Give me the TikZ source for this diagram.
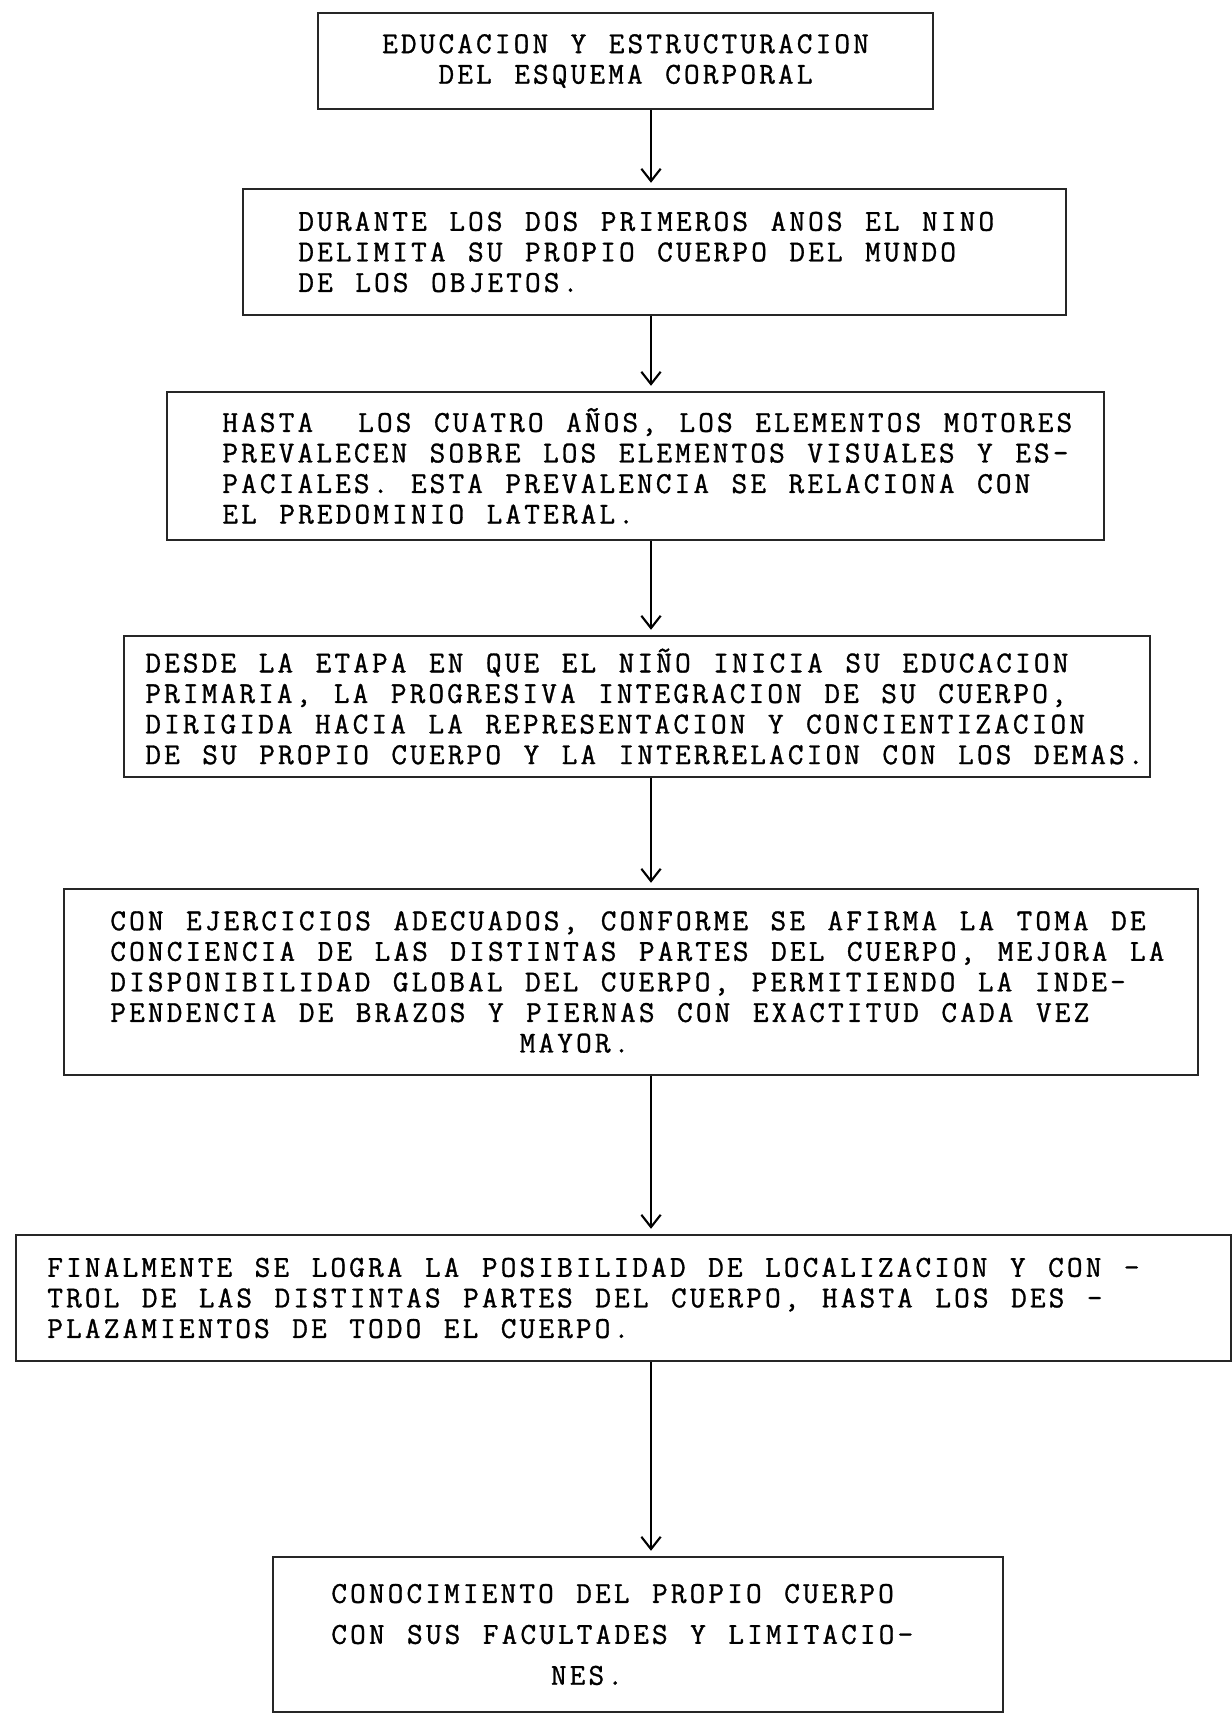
\documentclass[tikz,border=0pt]{standalone}
\usepackage{fontspec}
\usepackage{tikz}
\usetikzlibrary{arrows.meta}

\newfontfamily\maquinafam{Latin Modern Mono}[LetterSpace=10.35,WordSpace=1.197,FakeBold=1]
\newcommand{\maquina}{\maquinafam\fontsize{17.3}{17.4}\selectfont}
\newcommand{\maquinaamplia}{\maquinafam\fontsize{17.3}{23.3}\selectfont}

\begin{document}
\frenchspacing
\begin{tikzpicture}[x=0.02cm,y=-0.02cm,
		caja/.style={rectangle,draw=black!85,line width=1.1pt},
		texto/.style={inner sep=0pt,anchor=west,align=left,font=\maquina},
		flecha/.style={-{Straight Barb[length=7pt,width=11pt]},line width=1.2pt,shorten >=3pt}]
		
			\useasboundingbox (0,0) rectangle (1231,1714);
			
			\node[caja,minimum width=12.3cm,minimum height=1.92cm] (b1) at (625.5,61) {};
			\node[caja,minimum width=16.46cm,minimum height=2.52cm] (b2) at (654.5,252) {};
			\node[caja,minimum width=18.74cm,minimum height=2.96cm] (b3) at (635.5,466) {};
			\node[caja,minimum width=20.52cm,minimum height=2.82cm] (b4) at (637,706.5) {};
			\node[caja,minimum width=22.68cm,minimum height=3.72cm] (b5) at (631,982) {};
			\node[caja,minimum width=24.3cm,minimum height=2.52cm] (b6) at (623.5,1298) {};
			\node[caja,minimum width=14.6cm,minimum height=3.1cm] (b7) at (638,1634.5) {};
			
			\node[texto,anchor=center,align=center] (t1) at (625.5,61) {EDUCACION Y ESTRUCTURACION\\DEL ESQUEMA CORPORAL};
			\node[texto] (t2) at (298,252) {DURANTE LOS DOS PRIMEROS ANOS EL NINO\\DELIMITA SU PROPIO CUERPO DEL MUNDO\\DE LOS OBJETOS.};
			\node[texto] (t3) at (222,466) {HASTA\ \ LOS CUATRO AÑOS, LOS ELEMENTOS MOTORES\\PREVALECEN SOBRE LOS ELEMENTOS VISUALES Y ES-\\PACIALES. ESTA PREVALENCIA SE RELACIONA CON\\EL PREDOMINIO LATERAL.};
			\node[texto] (t4) at (145,706.5) {DESDE LA ETAPA EN QUE EL NIÑO INICIA SU EDUCACION\\PRIMARIA, LA PROGRESIVA INTEGRACION DE SU CUERPO,\\DIRIGIDA HACIA LA REPRESENTACION Y CONCIENTIZACION\\DE SU PROPIO CUERPO Y LA INTERRELACION CON LOS DEMAS.};
			\node[texto] (t5) at (110,982) {CON EJERCICIOS ADECUADOS, CONFORME SE AFIRMA LA TOMA DE\\CONCIENCIA DE LAS DISTINTAS PARTES DEL CUERPO, MEJORA LA\\DISPONIBILIDAD GLOBAL DEL CUERPO, PERMITIENDO LA INDE-\\PENDENCIA DE BRAZOS Y PIERNAS CON EXACTITUD CADA VEZ\\\hspace*{233pt}MAYOR.};
			\node[texto] (t6) at (47,1298) {FINALMENTE SE LOGRA LA POSIBILIDAD DE LOCALIZACION Y CON -\\TROL DE LAS DISTINTAS PARTES DEL CUERPO, HASTA LOS DES -\\PLAZAMIENTOS DE TODO EL CUERPO.};
			\node[texto,font=\maquinaamplia] (t7) at (331,1634.5) {CONOCIMIENTO DEL PROPIO CUERPO\\CON SUS FACULTADES Y LIMITACIO-\\\hspace*{125pt}NES.};
			
			\coordinate (eje) at (651,0);
			\draw[flecha] (b1.south -| eje) -- (b2.north -| eje);
			\draw[flecha] (b2.south -| eje) -- (b3.north -| eje);
			\draw[flecha] (b3.south -| eje) -- (b4.north -| eje);
			\draw[flecha] (b4.south -| eje) -- (b5.north -| eje);
			\draw[flecha] (b5.south -| eje) -- (b6.north -| eje);
			\draw[flecha] (b6.south -| eje) -- (b7.north -| eje);
		
		\end{tikzpicture}
\end{document}
